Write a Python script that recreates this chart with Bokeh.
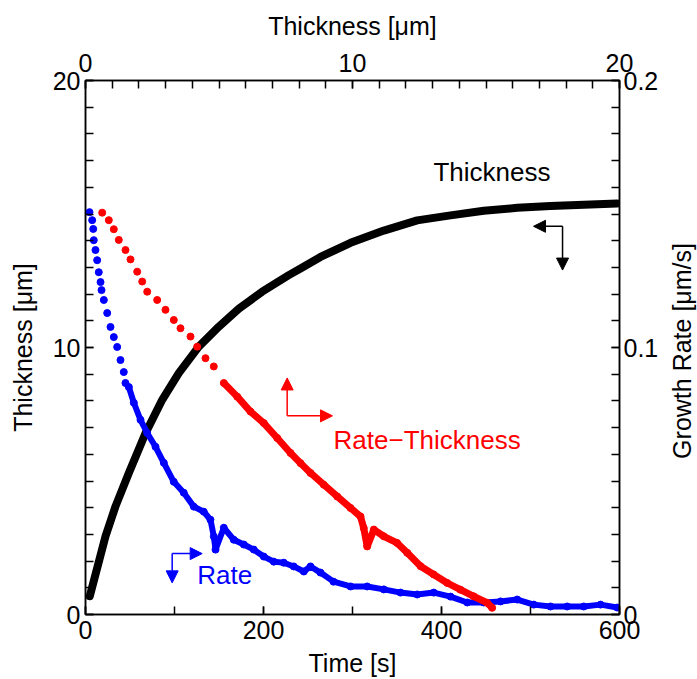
import math
from bokeh.plotting import figure
from bokeh.layouts import row
from bokeh.models import (Range1d, LinearAxis, FixedTicker, Label, Arrow,
                          NormalHead, NumeralTickFormatter)
from bokeh.embed import file_html
from bokeh.resources import INLINE

# ---- data ----
# Thickness vs time (left / bottom axes)
thick_time = [4.8, 22.5, 33.7, 48.7, 67.4, 86.2, 104.8, 127.3, 149.8, 172.2, 198.5,
              228.4, 241.6, 264.0, 297.8, 335.2, 372.7, 410.1, 447.5, 485.1, 522.5,
              559.9, 597.4]
thick_um = [0.684, 2.93, 4.05, 5.30, 6.79, 8.04, 9.04, 10.03, 10.78, 11.45, 12.09,
            12.71, 12.96, 13.39, 13.92, 14.38, 14.76, 14.95, 15.12, 15.23, 15.30,
            15.35, 15.39]

# Growth rate vs time (right / bottom axes)
rate_time = [4.5, 7.5, 8.7, 9.3, 11.2, 13.1, 14.9, 16.9, 18.0, 20.6, 24.4, 28.1,
             31.8, 35.6, 39.3, 43.0, 44.9, 48.7, 54.3, 61.8, 69.3, 78.7, 88.0, 99.2,
             110.4, 121.7, 132.9, 140.4, 144.2, 146.1, 155.4, 166.6, 177.9, 189.1,
             200.3, 211.6, 222.8, 234.0, 245.3, 252.8, 264.0, 278.7, 297.8, 316.5,
             335.2, 353.9, 372.7, 391.3, 410.1, 428.9, 447.5, 466.3, 485.1, 503.7,
             522.5, 541.2, 559.9, 578.7, 597.4]
rate_val = [0.1507, 0.1477, 0.1444, 0.1402, 0.1365, 0.1327, 0.1282, 0.1245, 0.1215,
            0.1178, 0.1129, 0.1077, 0.1039, 0.1002, 0.0953, 0.0908, 0.0867, 0.0852,
            0.0793, 0.0729, 0.0680, 0.0628, 0.0568, 0.0497, 0.0456, 0.0404, 0.0385,
            0.0355, 0.0292, 0.0243, 0.0325, 0.0280, 0.0262, 0.0243, 0.0217, 0.0198,
            0.0194, 0.0180, 0.0161, 0.0180, 0.0157, 0.0123, 0.0105, 0.0105, 0.0094,
            0.0082, 0.0075, 0.0082, 0.0067, 0.0045, 0.0045, 0.0049, 0.0056, 0.0037,
            0.0030, 0.0030, 0.0030, 0.0037, 0.0026]

# Growth rate vs thickness (right / top axes)
rt_thick = [0.625, 0.873, 1.06, 1.247, 1.498, 1.685, 1.936, 2.124, 2.311, 2.685,
            2.996, 3.307, 3.558, 3.933, 4.183, 4.494, 4.805, 5.180, 5.682, 6.180,
            6.678, 7.180, 7.678, 8.052, 8.427, 8.925, 9.427, 9.925, 10.30, 10.42,
            10.55, 10.80, 11.17, 11.67, 12.05, 12.55, 13.04, 13.55, 14.04, 14.54,
            15.04, 15.23]
rt_rate = [0.1505, 0.1477, 0.1443, 0.1403, 0.1365, 0.1330, 0.1284, 0.1247, 0.1209,
           0.1178, 0.1141, 0.1103, 0.1072, 0.1041, 0.1003, 0.0960, 0.0929, 0.0867,
           0.0816, 0.0760, 0.0717, 0.0661, 0.0605, 0.0567, 0.0530, 0.0486, 0.0442,
           0.0399, 0.0367, 0.0324, 0.0255, 0.0318, 0.0293, 0.0268, 0.0231, 0.0181,
           0.0150, 0.0118, 0.0093, 0.0068, 0.0044, 0.0025]

# ticks
time_ticks = [0, 200, 400, 600]
time_minor = [0, 100, 200, 300, 400, 500, 600]
thick_ticks = [0, 10, 20]
thick_minor = list(range(0, 21))
rate_ticks = [0, 0.1, 0.2]
rate_minor = [i / 100 for i in range(0, 21)]

FONT = "Liberation Sans"

p = figure(width=661, height=679, output_backend="svg", toolbar_location=None,
           x_range=Range1d(0, 600), y_range=Range1d(0, 20),
           min_border_left=85, min_border_right=42, min_border_top=80,
           min_border_bottom=64)
p.extra_x_ranges = {"th": Range1d(0, 20)}
p.extra_y_ranges = {"rate": Range1d(0, 0.2)}
p.xgrid.visible = False
p.ygrid.visible = False
p.outline_line_color = "black"
p.outline_line_width = 1.5
p.background_fill_color = "white"
p.border_fill_color = "white"

bottom_ax = p.below[0]
left_ax = p.left[0]
top_ax = LinearAxis(x_range_name="th")
right_ax = LinearAxis(y_range_name="rate")
p.add_layout(top_ax, "above")
p.add_layout(right_ax, "right")


def style(ax, label, standoff, lstandoff):
    if label:
        ax.axis_label = label
    ax.axis_line_color = "black"
    ax.axis_line_width = 1.5
    ax.major_tick_in = 8
    ax.major_tick_out = 0
    ax.minor_tick_in = 8
    ax.minor_tick_out = 0
    ax.major_tick_line_color = "black"
    ax.minor_tick_line_color = "black"
    ax.major_tick_line_width = 1.5
    ax.minor_tick_line_width = 1.5
    ax.major_label_text_font = FONT
    ax.major_label_text_font_size = "25px"
    ax.major_label_text_color = "black"
    ax.major_label_standoff = standoff
    ax.axis_label_text_font = FONT
    ax.axis_label_text_font_size = "25px"
    ax.axis_label_text_font_style = "normal"
    ax.axis_label_text_color = "black"
    ax.axis_label_standoff = lstandoff


style(bottom_ax, "Time [s]", 6, 7)
style(left_ax, "Thickness [μm]", 5, 13)
style(top_ax, "Thickness [μm]", 9, 11)
style(right_ax, None, 4, 0)
bottom_ax.axis_label_text_line_height = 0.8

bottom_ax.ticker = FixedTicker(ticks=time_ticks, minor_ticks=time_minor)
left_ax.ticker = FixedTicker(ticks=thick_ticks, minor_ticks=thick_minor)
top_ax.ticker = FixedTicker(ticks=thick_ticks, minor_ticks=thick_minor)
right_ax.ticker = FixedTicker(ticks=rate_ticks, minor_ticks=rate_minor)
right_ax.formatter = NumeralTickFormatter(format="0.[0]")

# thickness curve
p.line(thick_time, thick_um, line_color="black", line_width=8, line_cap="round",
       line_join="round")

# growth rate vs time
n0 = 17
p.line(rate_time[n0:], rate_val[n0:], y_range_name="rate", line_color="blue",
       line_width=6, line_join="round")
p.scatter(rate_time, rate_val, y_range_name="rate", size=7, color="blue")

# growth rate vs thickness
m0 = 17
p.line(rt_thick[m0:], rt_rate[m0:], x_range_name="th", y_range_name="rate",
       line_color="red", line_width=7, line_join="round")
p.scatter(rt_thick, rt_rate, x_range_name="th", y_range_name="rate", size=7,
          color="red")

# annotations
p.add_layout(Label(x=391, y=16.0, text="Thickness", text_color="black",
                   text_font=FONT, text_font_size="26px"))
p.add_layout(Label(x=278.7, y=5.98, text="Rate−Thickness", text_color="red",
                   text_font=FONT, text_font_size="26px"))
p.add_layout(Label(x=125.5, y=0.90, text="Rate", text_color="blue",
                   text_font=FONT, text_font_size="26px"))


def arrow(x0, y0, x1, y1, color):
    p.add_layout(Arrow(end=NormalHead(size=12, fill_color=color, line_color=color,
                                      line_width=1),
                       x_start=x0, y_start=y0, x_end=x1, y_end=y1,
                       line_color=color, line_width=1.5))


arrow(536, 14.54, 503.4, 14.54, "black")
arrow(536, 14.54, 536, 12.90, "black")
arrow(226.6, 7.44, 226.6, 8.86, "red")
arrow(226.6, 7.44, 277.5, 7.44, "red")
arrow(97.4, 2.28, 131.1, 2.28, "blue")
arrow(97.4, 2.28, 97.4, 1.185, "blue")

# narrow strip carrying the right axis title (reads bottom-to-top, centred)
p2 = figure(width=36, height=679, output_backend="svg", toolbar_location=None,
            x_range=Range1d(0, 1), y_range=Range1d(0, 1), x_axis_location=None,
            min_border_left=34, min_border_right=0, min_border_top=80,
            min_border_bottom=64)
p2.xgrid.visible = False
p2.ygrid.visible = False
p2.outline_line_color = None
p2.background_fill_color = "white"
p2.border_fill_color = "white"
ax2 = p2.left[0]
ax2.ticker = FixedTicker(ticks=[])
ax2.axis_line_color = None
ax2.major_tick_line_color = None
ax2.minor_tick_line_color = None
ax2.major_label_text_font_size = "0px"
ax2.major_label_standoff = 0
ax2.axis_label = "Growth Rate  [μm/s]"
ax2.axis_label_text_font = FONT
ax2.axis_label_text_font_size = "25px"
ax2.axis_label_text_font_style = "normal"
ax2.axis_label_text_color = "black"
ax2.axis_label_standoff = 0

layout = row(p, p2, spacing=0)
open("out.html", "w").write(file_html(layout, INLINE))
